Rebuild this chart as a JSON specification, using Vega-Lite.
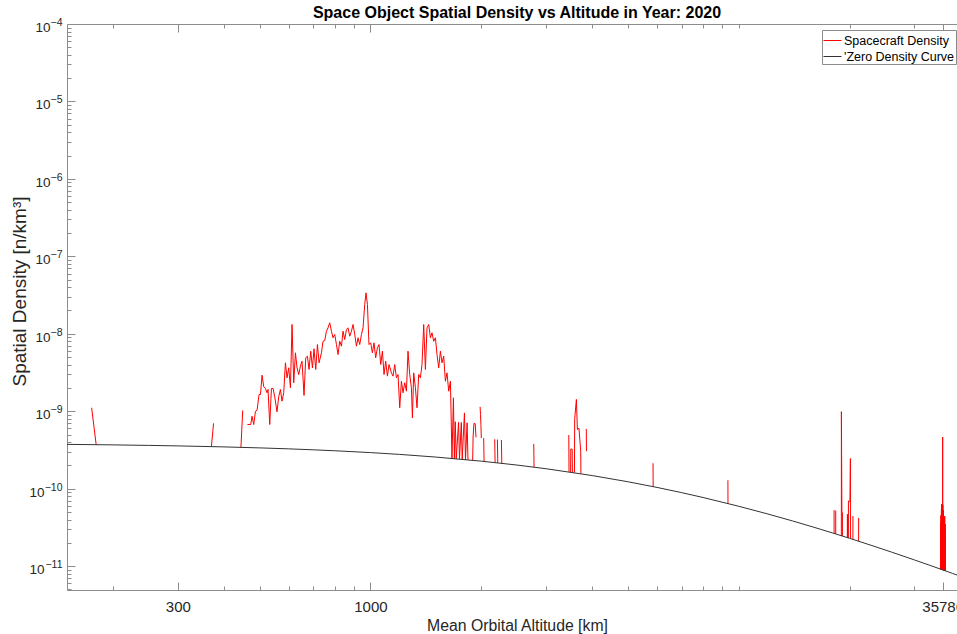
{
 "$schema": "https://vega.github.io/schema/vega-lite/v6.json",
 "width": 890,
 "height": 566,
 "autosize": {"type": "none"},
 "padding": {"left": 67, "top": 24, "right": 0, "bottom": 44},
 "background": "white",
 "title": {"text": "Space Object Spatial Density vs Altitude in Year: 2020", "anchor": "middle", "fontSize": 16, "fontWeight": "bold", "font": "Liberation Sans", "color": "#000000", "dx": 5, "offset": -3},
 "config": {
  "font": "Liberation Sans",
  "view": {"stroke": null},
  "axis": {"labelFont": "Liberation Sans", "titleFont": "Liberation Sans", "domainColor": "#8c8c8c", "tickColor": "#8c8c8c", "labelColor": "#262626", "titleColor": "#262626", "grid": false, "tickWidth": 1, "domainWidth": 1, "labelOverlap": false, "labelFlush": false, "titleFontWeight": "normal"}
 },
 "datasets": {
  "sc": [
   {"seg":1,"alt":175,"dens":1.11e-9},{"seg":1,"alt":180,"dens":3.70e-10},
   {"seg":2,"alt":370,"dens":3.495e-10},{"seg":2,"alt":375,"dens":6.98e-10},
   {"seg":3,"alt":445,"dens":3.419e-10},{"seg":3,"alt":450,"dens":1.024e-9},
   {"seg":4,"alt":463.5,"dens":6.74e-10},{"seg":4,"alt":473.1,"dens":6.74e-10},{"seg":4,"alt":477.0,"dens":8.63e-10},{"seg":4,"alt":482.1,"dens":6.74e-10},
   {"seg":4,"alt":487.3,"dens":1.00e-9},{"seg":4,"alt":492.2,"dens":1.03e-9},{"seg":4,"alt":498.4,"dens":1.645e-9},{"seg":4,"alt":502.8,"dens":1.645e-9},
   {"seg":4,"alt":507.8,"dens":2.92e-9},{"seg":4,"alt":513.2,"dens":2.07e-9},{"seg":4,"alt":518.7,"dens":1.97e-9},{"seg":4,"alt":523.9,"dens":1.73e-9},
   {"seg":4,"alt":527.2,"dens":1.91e-9},{"seg":4,"alt":532.8,"dens":6.74e-10},{"seg":4,"alt":538.5,"dens":1.97e-9},{"seg":4,"alt":543.9,"dens":1.97e-9},
   {"seg":4,"alt":549.7,"dens":1.54e-9},{"seg":4,"alt":557.6,"dens":9.83e-10},{"seg":4,"alt":563.6,"dens":1.54e-9},{"seg":4,"alt":569.6,"dens":1.91e-9},
   {"seg":4,"alt":575.3,"dens":1.35e-9},{"seg":4,"alt":581.5,"dens":1.73e-9},{"seg":4,"alt":587.7,"dens":4.22e-9},{"seg":4,"alt":593.6,"dens":2.70e-9},
   {"seg":4,"alt":600.0,"dens":3.64e-9},{"seg":4,"alt":606.4,"dens":2.01e-9},{"seg":4,"alt":612.5,"dens":1.318e-8},{"seg":4,"alt":619.0,"dens":2.33e-9},
   {"seg":4,"alt":625.7,"dens":5.68e-9},{"seg":4,"alt":632.0,"dens":3.64e-9},{"seg":4,"alt":638.7,"dens":2.98e-9},{"seg":4,"alt":645.5,"dens":3.82e-9},
   {"seg":4,"alt":652.0,"dens":4.43e-9},{"seg":4,"alt":660.2,"dens":1.60e-9},{"seg":4,"alt":667.3,"dens":4.90e-9},{"seg":4,"alt":674.4,"dens":5.14e-9},
   {"seg":4,"alt":681.2,"dens":3.46e-9},{"seg":4,"alt":688.5,"dens":5.96e-9},{"seg":4,"alt":695.9,"dens":3.64e-9},{"seg":4,"alt":702.8,"dens":6.40e-9},
   {"seg":4,"alt":710.4,"dens":3.46e-9},{"seg":4,"alt":718.0,"dens":7.27e-9},{"seg":4,"alt":725.2,"dens":4.22e-9},{"seg":4,"alt":736.2,"dens":5.68e-9},
   {"seg":4,"alt":743.5,"dens":8.02e-9},{"seg":4,"alt":751.5,"dens":8.20e-9},{"seg":4,"alt":759.5,"dens":1.08e-8},{"seg":4,"alt":767.1,"dens":1.195e-8},
   {"seg":4,"alt":775.3,"dens":1.387e-8},{"seg":4,"alt":783.6,"dens":1.08e-8},{"seg":4,"alt":791.5,"dens":8.88e-9},{"seg":4,"alt":799.9,"dens":9.79e-9},
   {"seg":4,"alt":808.5,"dens":7.27e-9},{"seg":4,"alt":816.6,"dens":5.40e-9},{"seg":4,"alt":825.3,"dens":8.02e-9},{"seg":4,"alt":834.2,"dens":6.92e-9},
   {"seg":4,"alt":842.6,"dens":1.08e-8},{"seg":4,"alt":851.5,"dens":8.44e-9},{"seg":4,"alt":860.6,"dens":1.136e-8},{"seg":4,"alt":869.3,"dens":1.195e-8},
   {"seg":4,"alt":878.6,"dens":9.31e-9},{"seg":4,"alt":888.0,"dens":1.08e-8},{"seg":4,"alt":896.9,"dens":1.318e-8},{"seg":4,"alt":906.5,"dens":9.79e-9},
   {"seg":4,"alt":916.2,"dens":6.92e-9},{"seg":4,"alt":925.4,"dens":8.88e-9},{"seg":4,"alt":935.3,"dens":7.27e-9},{"seg":4,"alt":945.3,"dens":9.79e-9},
   {"seg":4,"alt":954.8,"dens":1.195e-8},{"seg":4,"alt":964.9,"dens":2.39e-8},{"seg":4,"alt":972.8,"dens":3.38e-8},{"seg":4,"alt":981.4,"dens":2.39e-8},
   {"seg":4,"alt":991.0,"dens":7.27e-9},{"seg":4,"alt":1001.6,"dens":7.65e-9},{"seg":4,"alt":1012.3,"dens":5.68e-9},{"seg":4,"alt":1022.5,"dens":7.65e-9},
   {"seg":4,"alt":1033.4,"dens":4.90e-9},{"seg":4,"alt":1044.5,"dens":6.60e-9},{"seg":4,"alt":1055.0,"dens":7.27e-9},{"seg":4,"alt":1066.3,"dens":4.01e-9},
   {"seg":4,"alt":1077.7,"dens":5.96e-9},{"seg":4,"alt":1088.6,"dens":2.98e-9},{"seg":4,"alt":1100.2,"dens":4.43e-9},{"seg":4,"alt":1112.0,"dens":2.84e-9},
   {"seg":4,"alt":1123.2,"dens":4.01e-9},{"seg":4,"alt":1140.2,"dens":3.13e-9},{"seg":4,"alt":1151.6,"dens":2.84e-9},{"seg":4,"alt":1163.9,"dens":4.01e-9},
   {"seg":4,"alt":1176.3,"dens":2.70e-9},{"seg":4,"alt":1188.2,"dens":2.98e-9},{"seg":4,"alt":1200.9,"dens":1.108e-9},{"seg":4,"alt":1213.7,"dens":2.44e-9},
   {"seg":4,"alt":1225.9,"dens":1.73e-9},{"seg":4,"alt":1239.0,"dens":2.33e-9},{"seg":4,"alt":1252.3,"dens":1.815e-9},{"seg":4,"alt":1264.8,"dens":5.96e-9},
   {"seg":4,"alt":1278.3,"dens":2.98e-9},{"seg":4,"alt":1292.0,"dens":2.01e-9},{"seg":4,"alt":1300.1,"dens":8.23e-10},{"seg":4,"alt":1310.7,"dens":3.13e-9},
   {"seg":4,"alt":1324.7,"dens":2.01e-9},{"seg":4,"alt":1338.0,"dens":1.108e-9},{"seg":4,"alt":1352.3,"dens":2.98e-9},{"seg":4,"alt":1366.7,"dens":2.70e-9},
   {"seg":4,"alt":1380.4,"dens":4.01e-9},{"seg":4,"alt":1395.2,"dens":1.318e-8},{"seg":4,"alt":1410.1,"dens":3.46e-9},{"seg":4,"alt":1424.3,"dens":1.195e-8},
   {"seg":4,"alt":1439.5,"dens":1.318e-8},{"seg":4,"alt":1454.9,"dens":8.88e-9},{"seg":4,"alt":1469.5,"dens":1.03e-8},{"seg":4,"alt":1485.3,"dens":8.02e-9},
   {"seg":4,"alt":1501.1,"dens":8.88e-9},{"seg":4,"alt":1516.2,"dens":5.40e-9},{"seg":4,"alt":1532.4,"dens":3.64e-9},{"seg":4,"alt":1548.8,"dens":5.96e-9},
   {"seg":4,"alt":1564.3,"dens":4.22e-9},{"seg":4,"alt":1581.1,"dens":5.14e-9},{"seg":4,"alt":1597.9,"dens":2.44e-9},{"seg":4,"alt":1614.0,"dens":3.13e-9},
   {"seg":4,"alt":1631.3,"dens":1.815e-9},{"seg":4,"alt":1648.7,"dens":2.44e-9},
   {"seg":4,"alt":1665,"dens":2.460e-10},{"seg":4,"alt":1680,"dens":1.49e-9},{"seg":4,"alt":1690,"dens":2.445e-10},{"seg":4,"alt":1700,"dens":7.32e-10},
   {"seg":4,"alt":1710,"dens":2.433e-10},{"seg":4,"alt":1735,"dens":7.2e-10},{"seg":4,"alt":1745,"dens":2.412e-10},{"seg":4,"alt":1765,"dens":7.15e-10},
   {"seg":4,"alt":1775,"dens":2.394e-10},{"seg":4,"alt":1800,"dens":9.52e-10},{"seg":4,"alt":1812,"dens":2.373e-10},{"seg":4,"alt":1830,"dens":7.09e-10},
   {"seg":4,"alt":1840,"dens":2.357e-10},
   {"seg":5,"alt":1895,"dens":2.325e-10},{"seg":5,"alt":1900,"dens":4.65e-10},{"seg":5,"alt":1910,"dens":6.95e-10},{"seg":5,"alt":1925,"dens":6.9e-10},{"seg":5,"alt":1935,"dens":4.6e-10},
   {"seg":6,"alt":1985,"dens":1.14e-9},{"seg":6,"alt":1990,"dens":9.1e-10},{"seg":6,"alt":1995,"dens":6.8e-10},{"seg":6,"alt":2000,"dens":4.5e-10},
   {"seg":7,"alt":2030,"dens":4.50e-10},{"seg":7,"alt":2035,"dens":2.249e-10},
   {"seg":8,"alt":2175,"dens":4.35e-10},{"seg":8,"alt":2180,"dens":2.173e-10},
   {"seg":9,"alt":2212,"dens":4.31e-10},{"seg":9,"alt":2217,"dens":2.154e-10},
   {"seg":10,"alt":2268,"dens":4.25e-10},{"seg":10,"alt":2273,"dens":2.127e-10},
   {"seg":11,"alt":2776,"dens":3.79e-10},{"seg":11,"alt":2781,"dens":1.897e-10},
   {"seg":12,"alt":3456,"dens":4.93e-10},{"seg":12,"alt":3461,"dens":1.644e-10},
   {"seg":13,"alt":3495,"dens":1.633e-10},{"seg":13,"alt":3500,"dens":3.26e-10},{"seg":13,"alt":3530,"dens":3.24e-10},{"seg":13,"alt":3535,"dens":1.620e-10},
   {"seg":14,"alt":3580,"dens":1.605e-10},{"seg":14,"alt":3586,"dens":8.0e-10},{"seg":14,"alt":3624,"dens":1.42e-9},{"seg":14,"alt":3647,"dens":5.8e-10},{"seg":14,"alt":3683,"dens":6.05e-10},{"seg":14,"alt":3723,"dens":3.05e-10},{"seg":14,"alt":3728,"dens":1.558e-10},
   {"seg":15,"alt":3855,"dens":5.93e-10},{"seg":15,"alt":3860,"dens":3.05e-10},
   {"seg":16,"alt":5852,"dens":2.13e-10},{"seg":16,"alt":5857,"dens":1.063e-10},
   {"seg":17,"alt":9346,"dens":1.287e-10},{"seg":17,"alt":9351,"dens":6.433e-11},
   {"seg":18,"alt":18150,"dens":5.29e-11},{"seg":18,"alt":18155,"dens":2.645e-11},
   {"seg":19,"alt":18335,"dens":5.21e-11},{"seg":19,"alt":18340,"dens":2.605e-11},
   {"seg":20,"alt":18995,"dens":2.472e-11},{"seg":20,"alt":19000,"dens":9.88e-10},{"seg":20,"alt":19060,"dens":4.93e-11},{"seg":20,"alt":19120,"dens":4.92e-11},{"seg":20,"alt":19125,"dens":2.447e-11},
   {"seg":21,"alt":19725,"dens":2.335e-11},{"seg":21,"alt":19730,"dens":4.67e-11},{"seg":21,"alt":19735,"dens":2.334e-11},
   {"seg":22,"alt":19850,"dens":2.314e-11},{"seg":22,"alt":19855,"dens":6.94e-11},{"seg":22,"alt":19955,"dens":6.9e-11},{"seg":22,"alt":20050,"dens":6.86e-11},{"seg":22,"alt":20101,"dens":2.45e-10},{"seg":22,"alt":20106,"dens":2.27e-11},
   {"seg":23,"alt":20420,"dens":2.216e-11},{"seg":23,"alt":20425,"dens":4.43e-11},
   {"seg":24,"alt":21160,"dens":2.098e-11},{"seg":24,"alt":21165,"dens":4.2e-11},
   {"seg":25,"alt":35300,"dens":9.162e-12},{"seg":25,"alt":35330,"dens":3.6e-11},{"seg":25,"alt":35360,"dens":9.136e-12},{"seg":25,"alt":35390,"dens":4.5e-11},
   {"seg":25,"alt":35420,"dens":9.110e-12},{"seg":25,"alt":35450,"dens":3.6e-11},{"seg":25,"alt":35480,"dens":9.084e-12},{"seg":25,"alt":35510,"dens":5.4e-11},
   {"seg":25,"alt":35540,"dens":9.058e-12},{"seg":25,"alt":35570,"dens":6.3e-11},{"seg":25,"alt":35600,"dens":9.032e-12},{"seg":25,"alt":35630,"dens":5.4e-11},
   {"seg":25,"alt":35660,"dens":9.006e-12},{"seg":25,"alt":35690,"dens":6.3e-11},{"seg":25,"alt":35720,"dens":8.981e-12},{"seg":25,"alt":35750,"dens":4.5e-11},
   {"seg":25,"alt":35770,"dens":8.960e-12},{"seg":25,"alt":35786,"dens":4.65e-10},{"seg":25,"alt":35800,"dens":8.947e-12},{"seg":25,"alt":35830,"dens":6.2e-11},
   {"seg":25,"alt":35860,"dens":8.922e-12},{"seg":25,"alt":35890,"dens":4.5e-11},{"seg":25,"alt":35920,"dens":8.896e-12},{"seg":25,"alt":35950,"dens":5.3e-11},
   {"seg":25,"alt":35980,"dens":8.871e-12},{"seg":25,"alt":36010,"dens":4.4e-11},{"seg":25,"alt":36040,"dens":8.846e-12},{"seg":25,"alt":36070,"dens":4.4e-11},
   {"seg":25,"alt":36100,"dens":8.821e-12},{"seg":25,"alt":36130,"dens":4.4e-11},{"seg":25,"alt":36160,"dens":8.796e-12},{"seg":25,"alt":36190,"dens":3.5e-11},
   {"seg":25,"alt":36220,"dens":8.771e-12},{"seg":25,"alt":36250,"dens":4.4e-11},{"seg":25,"alt":36280,"dens":8.747e-12},{"seg":25,"alt":36310,"dens":2.6e-11},
   {"seg":25,"alt":36340,"dens":8.722e-12},{"seg":25,"alt":36370,"dens":3.5e-11},{"seg":25,"alt":36400,"dens":8.697e-12}
  ],
  "zero": [
   {"alt":150,"dens":3.7347e-10},{"alt":200,"dens":3.6782e-10},{"alt":250,"dens":3.6229e-10},{"alt":300,"dens":3.5688e-10},
   {"alt":400,"dens":3.4643e-10},{"alt":500,"dens":3.3643e-10},{"alt":600,"dens":3.2686e-10},{"alt":700,"dens":3.1769e-10},
   {"alt":800,"dens":3.0890e-10},{"alt":1000,"dens":2.9238e-10},{"alt":1200,"dens":2.7715e-10},{"alt":1500,"dens":2.5644e-10},
   {"alt":2000,"dens":2.2675e-10},{"alt":2500,"dens":2.0193e-10},{"alt":3000,"dens":1.8097e-10},{"alt":4000,"dens":1.4777e-10},
   {"alt":5000,"dens":1.2294e-10},{"alt":6000,"dens":1.0388e-10},{"alt":7000,"dens":8.8928e-11},{"alt":8000,"dens":7.6988e-11},
   {"alt":10000,"dens":5.9333e-11},{"alt":12000,"dens":4.7122e-11},{"alt":14000,"dens":3.8326e-11},{"alt":16000,"dens":3.1782e-11},
   {"alt":18000,"dens":2.6781e-11},{"alt":20000,"dens":2.2874e-11},{"alt":23000,"dens":1.8441e-11},{"alt":26000,"dens":1.5182e-11},
   {"alt":30000,"dens":1.2026e-11},{"alt":33000,"dens":1.0264e-11},{"alt":35786,"dens":8.9523e-12},{"alt":38000,"dens":8.0814e-12},
   {"alt":42000,"dens":6.8002e-12}
  ]
 },
 "resolve": {"axis": {"x": "independent", "y": "independent"}},
 "layer": [
  {
   "data": {"name": "sc"},
   "mark": {"type": "line", "clip": true, "strokeWidth": 1},
   "encoding": {
    "x": {"field": "alt", "type": "quantitative",
     "scale": {"type": "log", "domain": [150, 39143], "nice": false},
     "axis": {"orient": "bottom", "title": "Mean Orbital Altitude [km]",
      "values": [200,300,400,500,600,700,800,900,1000,2000,3000,4000,5000,6000,7000,8000,9000,10000,20000,30000,35786],
      "labelExpr": "indexof([300,1000,35786], datum.value) >= 0 ? '' + datum.value : ''",
      "tickSize": {"condition": {"test": "indexof([300,1000,35786], datum.value) >= 0", "value": -8}, "value": -4},
      "labelPadding": 17, "labelFontSize": 15, "titleFontSize": 15.8, "titleX": 450, "titleY": 28, "titleBaseline": "top"}},
    "y": {"field": "dens", "type": "quantitative",
     "scale": {"type": "log", "domain": [4.92e-12, 1e-4], "nice": false},
     "axis": {"orient": "left", "title": "Spatial Density [n/km³]",
      "values": [5e-12,6e-12,7e-12,8e-12,9e-12,1e-11,2e-11,3e-11,4e-11,5e-11,6e-11,7e-11,8e-11,9e-11,1e-10,2e-10,3e-10,4e-10,5e-10,6e-10,7e-10,8e-10,9e-10,1e-9,2e-9,3e-9,4e-9,5e-9,6e-9,7e-9,8e-9,9e-9,1e-8,2e-8,3e-8,4e-8,5e-8,6e-8,7e-8,8e-8,9e-8,1e-7,2e-7,3e-7,4e-7,5e-7,6e-7,7e-7,8e-7,9e-7,1e-6,2e-6,3e-6,4e-6,5e-6,6e-6,7e-6,8e-6,9e-6,1e-5,2e-5,3e-5,4e-5,5e-5,6e-5,7e-5,8e-5,9e-5,1e-4],
      "labelExpr": "abs(log(datum.value)/LN10 - round(log(datum.value)/LN10)) < 1e-6 ? '10' : ''",
      "tickSize": {"condition": {"test": "abs(log(datum.value)/LN10 - round(log(datum.value)/LN10)) < 1e-6", "value": -8}, "value": -4},
      "labelPadding": {"condition": {"test": "datum.value < 3e-10", "value": 31}, "value": 25},
      "labelFontSize": 13.5, "labelOffset": 3.5, "titleFontSize": 19, "titleX": -42, "titleY": 267, "titleBaseline": "alphabetic"}},
    "detail": {"field": "seg", "type": "nominal"},
    "color": {"datum": "Spacecraft Density",
     "scale": {"domain": ["Spacecraft Density", "'Zero Density Curve"], "range": ["#ff0000", "#333333"]},
     "legend": {"title": null, "orient": "none", "legendX": 755, "legendY": 6, "direction": "vertical", "fillColor": "#ffffff", "strokeColor": "#8c8c8c", "padding": 1, "symbolType": "stroke", "symbolSize": 324, "symbolStrokeWidth": 1, "labelFont": "Liberation Sans", "labelFontSize": 12.5, "labelColor": "#000000", "labelOffset": 2, "rowPadding": -2}}
   }
  },
  {
   "data": {"name": "zero"},
   "mark": {"type": "line", "clip": true, "strokeWidth": 1},
   "encoding": {
    "x": {"field": "alt", "type": "quantitative",
     "scale": {"type": "log", "domain": [150, 39143], "nice": false},
     "axis": {"orient": "top", "title": null, "labels": false,
      "values": [200,300,400,500,600,700,800,900,1000,2000,3000,4000,5000,6000,7000,8000,9000,10000,20000,30000,35786],
      "tickSize": {"condition": {"test": "indexof([300,1000,35786], datum.value) >= 0", "value": -8}, "value": -4}}},
    "y": {"field": "dens", "type": "quantitative",
     "scale": {"type": "log", "domain": [4.92e-12, 1e-4], "nice": false},
     "axis": {"orient": "left", "title": null, "domain": false, "ticks": false,
      "values": [1e-11,1e-10,1e-9,1e-8,1e-7,1e-6,1e-5,1e-4],
      "labelExpr": "'−' + round(-log(datum.value)/LN10)",
      "labelFontSize": 10.5, "labelPadding": 5, "labelOffset": -1.5}},
    "color": {"datum": "'Zero Density Curve",
     "scale": {"domain": ["Spacecraft Density", "'Zero Density Curve"], "range": ["#ff0000", "#333333"]},
     "legend": {"title": null, "orient": "none", "legendX": 755, "legendY": 6, "direction": "vertical", "fillColor": "#ffffff", "strokeColor": "#8c8c8c", "padding": 1, "symbolType": "stroke", "symbolSize": 324, "symbolStrokeWidth": 1, "labelFont": "Liberation Sans", "labelFontSize": 12.5, "labelColor": "#000000", "labelOffset": 2, "rowPadding": -2}}
   }
  }
 ]
}
